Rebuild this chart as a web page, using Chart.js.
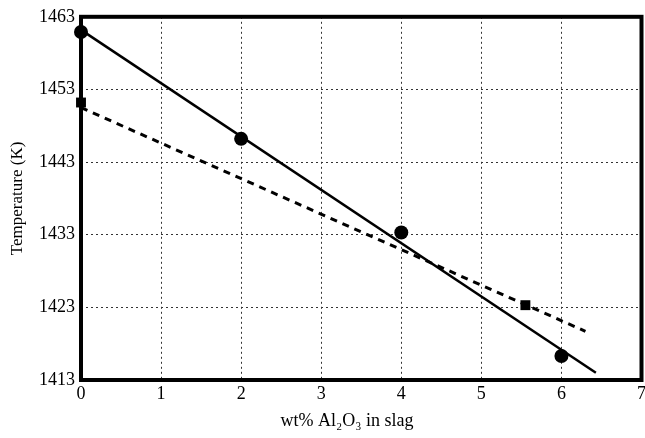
<!DOCTYPE html>
<html>
<head>
<meta charset="utf-8">
<script src="https://cdn.jsdelivr.net/npm/chart.js@4"></script>
<style>
html,body{margin:0;padding:0;background:#fff;overflow:hidden;}
#wrap{width:645px;height:438px;position:relative;overflow:hidden;}
</style>
</head>
<body>
<div id="wrap"><canvas id="c" width="649" height="438"></canvas></div>
<script>
// Data
const xTicks = [0, 1, 2, 3, 4, 5, 6, 7];
const yTicks = [1413, 1423, 1433, 1443, 1453, 1463];
const circleX = [0, 2, 4, 6];
const circleY = [1460.9, 1446.2, 1433.3, 1416.3];
const squareX = [0, 5.55];
const squareY = [1451.2, 1423.3];
const solidFitX = [0, 6.43];
const solidFitY = [1461.2, 1414.0];
const dashFitX = [0, 6.3];
const dashFitY = [1450.5, 1419.7];
const xTitle = 'wt% Al\u2082O\u2083 in slag';
const yTitle = 'Temperature (K)';

const pts = (xs, ys) => xs.map((x, i) => ({x: x, y: ys[i]}));
const FONT = 'Liberation Serif, Times New Roman, serif';

const framePlugin = {
  id: 'frame',
  beforeDatasetsDraw(chart) {
    const {ctx, chartArea: a} = chart;
    ctx.save();
    ctx.strokeStyle = '#000';
    ctx.lineWidth = 4;
    ctx.strokeRect(a.left, a.top, a.right - a.left, a.bottom - a.top);
    ctx.restore();
  },
  afterDraw(chart) {
    const {ctx, chartArea: a} = chart;
    ctx.save();
    ctx.fillStyle = '#000';
    ctx.font = '18px ' + FONT;
    ctx.textAlign = 'center';
    ctx.textBaseline = 'alphabetic';
    ctx.fillText(xTitle, 347, 426);
    ctx.translate(22, (a.top + a.bottom) / 2);
    ctx.rotate(-Math.PI / 2);
    ctx.font = '17px ' + FONT;
    ctx.fillText(yTitle, 0, 0);
    ctx.restore();
  }
};

new Chart(document.getElementById('c'), {
  type: 'scatter',
  data: {
    datasets: [
      {
        data: pts(solidFitX, solidFitY),
        showLine: true, borderColor: '#000', borderWidth: 2.5,
        pointRadius: 0, clip: false
      },
      {
        data: pts(dashFitX, dashFitY),
        showLine: true, borderColor: '#000', borderWidth: 3,
        borderDash: [7, 6], pointRadius: 0, clip: false
      },
      {
        data: pts(circleX, circleY),
        pointStyle: 'circle', pointRadius: 7,
        backgroundColor: '#000', borderColor: '#000', borderWidth: 0, clip: false
      },
      {
        data: pts(squareX, squareY),
        pointStyle: 'rect', pointRadius: 7,
        backgroundColor: '#000', borderColor: '#000', borderWidth: 0, clip: false
      }
    ]
  },
  options: {
    responsive: false,
    animation: false,
    events: [],
    layout: {padding: {top: 16, right: 0, left: 0, bottom: 0}},
    plugins: {legend: {display: false}, tooltip: {enabled: false}},
    scales: {
      x: {
        type: 'linear', min: 0, max: 7,
        afterBuildTicks: s => { s.ticks = xTicks.map(v => ({value: v})); },
        afterFit: s => { s.height = 58; },
        grid: {color: '#333', lineWidth: 1, drawTicks: false},
        border: {display: false, dash: [2, 3]},
        ticks: {color: '#000', font: {family: FONT, size: 18}, padding: 3, maxRotation: 0,
          callback: v => String(v)}
      },
      y: {
        type: 'linear', min: 1413, max: 1463,
        afterBuildTicks: s => { s.ticks = yTicks.map(v => ({value: v})); },
        afterFit: s => { s.width = 81; },
        grid: {color: '#333', lineWidth: 1, drawTicks: false},
        border: {display: false, dash: [2, 3]},
        ticks: {color: '#000', font: {family: FONT, size: 18}, padding: 6,
          callback: v => String(v)}
      }
    }
  },
  plugins: [framePlugin]
});
</script>
</body>
</html>
